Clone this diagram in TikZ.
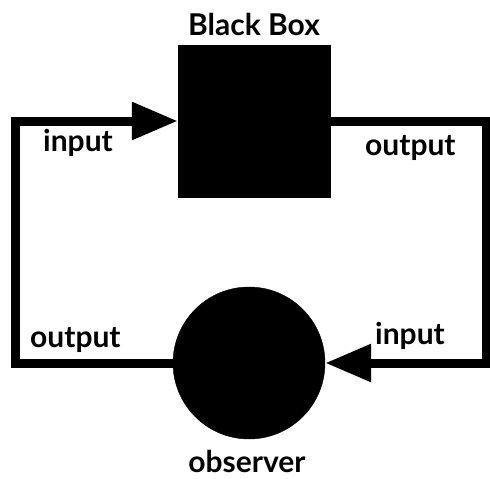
\documentclass[tikz,border=0pt]{standalone}
\usepackage{fontspec}
\setmainfont{Lato}
\usetikzlibrary{arrows.meta, positioning}

\begin{document}
\begin{tikzpicture}[x=1pt, y=-1pt,
            box/.style={rectangle, fill=black, draw=black, minimum width=152pt, minimum height=152pt, inner sep=0pt},
            obsv/.style={circle, fill=black, draw=black, minimum size=152pt, inner sep=0pt},
            wire/.style={line width=9pt, line join=miter},
            flow/.style={wire, -{Triangle[length=46pt, width=36pt]}},
            lbl/.style={font=\fontsize{30}{34}\selectfont\bfseries, anchor=base west, inner sep=0pt}
        ]
            \useasboundingbox (0,0) rectangle (490,479);

            % --- nodes ---
            \node[box] (bb) at (254,121) {};
            \node[obsv] (obs) at (249,363) {};

            % --- corners of the loop ---
            \coordinate (tl) at (15,121);
            \coordinate (tr) at (486,121);
            \coordinate (br) at (486,363);
            \coordinate (bl) at (15,363);

            % --- loop ---
            \draw[flow] (obs.west) -- (bl) -- (tl) -- (bb.west);
            \draw[flow] (bb.east) -- (tr) -- (br) -- (obs.east);

            % --- labels ---
            \node[lbl, anchor=base] (bbname) at (254,35) {Black Box};
            \node[lbl, anchor=base] (obsname) at (247,472) {observer};
            \node[lbl] (in1) at (43,151) {input};
            \node[lbl] (out1) at (365,155) {output};
            \node[lbl] (out2) at (30,347) {output};
            \node[lbl] (in2) at (375,344) {input};
        \end{tikzpicture}
\end{document}
